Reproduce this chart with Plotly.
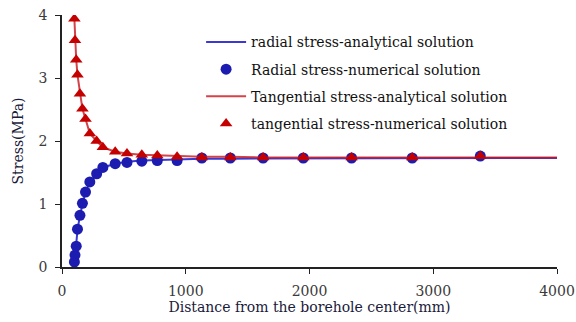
import plotly.graph_objects as go

# Distance from borehole center (mm) for the numerical samples
dist_num = [100, 105, 115, 125, 145, 165, 190, 225, 280, 330, 430, 525, 645,
            770, 930, 1130, 1360, 1625, 1950, 2340, 2830, 3380]
radial_num = [0.08, 0.19, 0.33, 0.60, 0.82, 1.01, 1.19, 1.35, 1.48, 1.58, 1.64,
              1.66, 1.68, 1.69, 1.69, 1.73, 1.73, 1.73, 1.73, 1.73, 1.73, 1.76]
tangential_num = [3.94, 3.60, 3.29, 3.05, 2.75, 2.51, 2.35, 2.12, 2.00, 1.90, 1.83,
                  1.80, 1.78, 1.77, 1.75, 1.74, 1.74, 1.74, 1.74, 1.74, 1.74, 1.76]

# Analytical curves
dist_ana = [100, 105, 115, 125, 145, 165, 190, 225, 280, 330, 430, 525, 645,
            770, 930, 1130, 1360, 1625, 1950, 2340, 2830, 3380, 4000]
radial_ana = [0.05, 0.17, 0.33, 0.58, 0.82, 1.01, 1.19, 1.35, 1.48, 1.58, 1.64,
              1.67, 1.69, 1.70, 1.71, 1.72, 1.72, 1.72, 1.73, 1.73, 1.73, 1.73, 1.73]
tangential_ana = [3.94, 3.60, 3.29, 3.05, 2.75, 2.51, 2.35, 2.12, 2.00, 1.90, 1.83,
                  1.80, 1.78, 1.77, 1.76, 1.75, 1.75, 1.74, 1.74, 1.74, 1.74, 1.74, 1.74]

x_ticks = [0, 1000, 2000, 3000, 4000]
y_ticks = [0, 1, 2, 3, 4]

serif = "DejaVu Serif, serif"

fig = go.Figure()
fig.add_trace(go.Scatter(x=dist_ana, y=radial_ana, mode="lines",
                         name="radial stress-analytical solution",
                         line=dict(color="#3a3ad0", width=2), legendgroup="a"))
fig.add_trace(go.Scatter(x=dist_num, y=radial_num, mode="markers",
                         name="Radial stress-numerical solution",
                         marker=dict(color="#1c1cb0", size=11, symbol="circle"),
                         legendgroup="b"))
fig.add_trace(go.Scatter(x=dist_ana, y=tangential_ana, mode="lines",
                         name="Tangential stress-analytical solution",
                         line=dict(color="rgba(200,20,30,0.8)", width=2), legendgroup="c"))
fig.add_trace(go.Scatter(x=dist_num, y=tangential_num, mode="markers",
                         name="tangential stress-numerical solution",
                         marker=dict(color="#c40000", size=11, symbol="triangle-up"),
                         legendgroup="d"))

axis_common = dict(showgrid=False, zeroline=False, showline=True, linecolor="#222",
                   linewidth=1.5, ticks="outside", ticklen=5, tickcolor="#222",
                   automargin=False, ticklabelstandoff=5,
                   tickfont=dict(family=serif, size=14, color="#3a3a3a"))

fig.update_layout(
    width=576, height=322,
    margin=dict(l=62, r=19, t=15, b=55),
    plot_bgcolor="white", paper_bgcolor="white",
    xaxis=dict(range=[0, 4000], tickvals=x_ticks,
               title=dict(text="Distance from the borehole center(mm)",
                          font=dict(family=serif, size=14, color="#1a1a3a"), standoff=2),
               **axis_common),
    yaxis=dict(range=[0, 4], tickvals=y_ticks,
               title=dict(text="Stress(MPa)",
                          font=dict(family=serif, size=14, color="#1a1a3a"), standoff=12),
               **axis_common),
    legend=dict(x=0.281, y=0.955, xanchor="left", yanchor="top",
                font=dict(family=serif, size=14, color="#111"),
                traceorder="grouped", tracegroupgap=6, itemwidth=40,
                bgcolor="rgba(0,0,0,0)"),
)

fig.write_html("out.html")
